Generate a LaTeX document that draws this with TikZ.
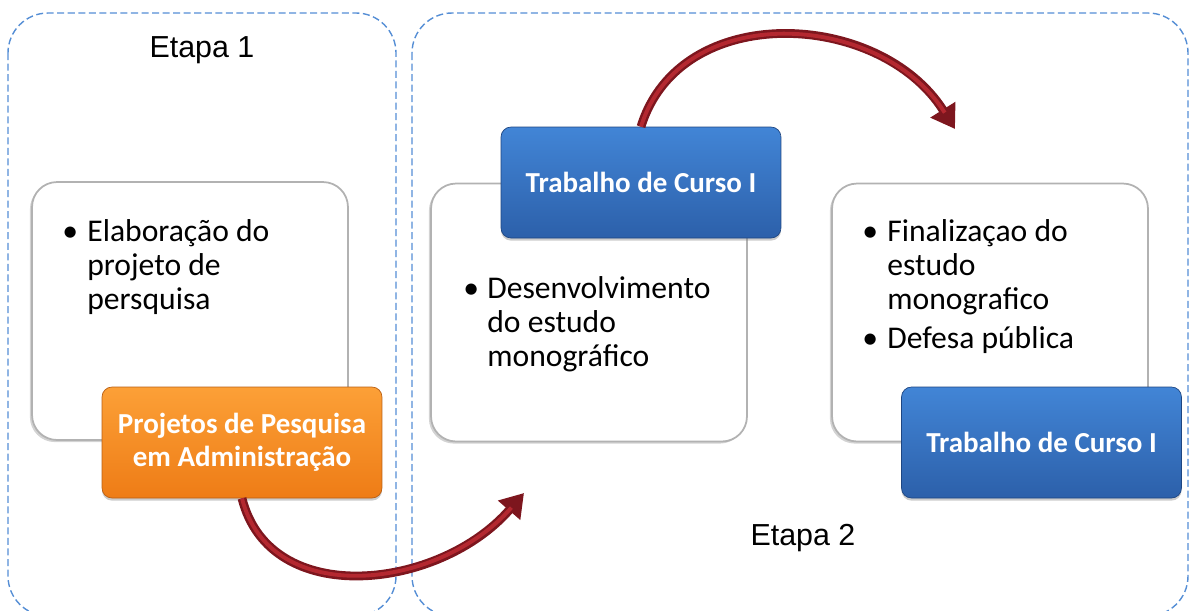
\documentclass[tikz,border=0pt]{standalone}
\usepackage{fontspec}
\setmainfont{Carlito}
\newfontfamily\arialfont{Liberation Sans}
\usetikzlibrary{shadows,arrows.meta}
\definecolor{dashblue}{RGB}{85,142,213}
\definecolor{orntop}{RGB}{252,160,55}
\definecolor{ornbot}{RGB}{238,124,22}
\definecolor{orndraw}{RGB}{185,95,20}
\definecolor{blutop}{RGB}{66,133,214}
\definecolor{blubot}{RGB}{44,96,170}
\definecolor{bludraw}{RGB}{30,70,130}
\definecolor{arrdark}{RGB}{125,22,30}
\definecolor{arrred}{RGB}{180,40,48}
\tikzset{card/.style={draw=black!30, line width=1pt, fill=white, rounded corners=0.5cm, minimum width=6.32cm, minimum height=5.16cm, drop shadow={shadow xshift=-1.2pt, shadow yshift=-1.2pt, opacity=.35}},
  boxtag/.style={rounded corners=0.2cm, minimum width=5.6cm, minimum height=2.22cm, text=white, font=\bfseries\fontsize{16.5}{18.7}\selectfont, align=center, drop shadow={shadow xshift=0pt, shadow yshift=-1.5pt, opacity=.4}},
  orn/.style={boxtag, draw=orndraw, top color=orntop, bottom color=ornbot},
  blu/.style={boxtag, draw=bludraw, top color=blutop, bottom color=blubot},
  dashframe/.style={draw=dashblue, line width=0.8pt, dash pattern=on 4pt off 2pt, rounded corners=0.8cm},
  etapa/.style={font=\arialfont\fontsize{17.3}{20}\selectfont},
  txt/.style={anchor=base west, inner sep=0pt, font=\fontsize{18}{19.6}\selectfont},
  arr/.style={line width=5pt, draw=arrdark, -{Triangle[length=13pt,width=16pt]}},
  arrin/.style={line width=2.2pt, draw=arrred, shorten >=11pt}}

\begin{document}
\begin{tikzpicture}[x=0.02cm,y=-0.02cm]
  \useasboundingbox (0,0) rectangle (1190,610);
  \draw[dashframe] (8,13) rectangle (396,616);
  \draw[dashframe] (412,13) rectangle (1188,616);
  \node[etapa] (et1) at (202,50) {Etapa 1};
  \node[etapa] (et2) at (803,538) {Etapa 2};

  \node[card] (ca) at (190,311) {};
  \node[card] (cb) at (589,312.5) {};
  \node[card] (cc) at (990,312.5) {};

  \node[txt] (ta) at (62,241) {\begin{tabular}[t]{@{}p{0.5cm}@{}l@{}}
    \textbullet & Elaboração do\\ & projeto de\\ & persquisa\end{tabular}};
  \node[txt] (tb) at (463,298) {\begin{tabular}[t]{@{}p{0.48cm}@{}l@{}}
    \textbullet & Desenvolvimento\\ & do estudo\\ & monográfico\end{tabular}};
  \node[txt] (tc) at (862,241) {\begin{tabular}[t]{@{}p{0.5cm}@{}l@{}}
    \textbullet & Finalizaçao do\\ & estudo\\ & monografico\\[2.5pt] \textbullet & Defesa pública\end{tabular}};

  \node[orn] (pp) at (242,442.5) {Projetos de Pesquisa\\em Administração};
  \node[blu] (tc1) at (641,182.5) {Trabalho de Curso I};
  \node[blu] (tc2) at (1041.5,442.5) {Trabalho de Curso I};

  \coordinate (e1) at (524,493);
  \coordinate (e2) at (955,129);
  \draw[arr] (pp.south) .. controls (270,610) and (440,590) .. (e1);
  \draw[arrin] (pp.south) .. controls (270,610) and (440,590) .. (e1);
  \draw[arr] (tc1.north) .. controls (680,0) and (880,10) .. (e2);
  \draw[arrin] (tc1.north) .. controls (680,0) and (880,10) .. (e2);
\end{tikzpicture}
\end{document}
